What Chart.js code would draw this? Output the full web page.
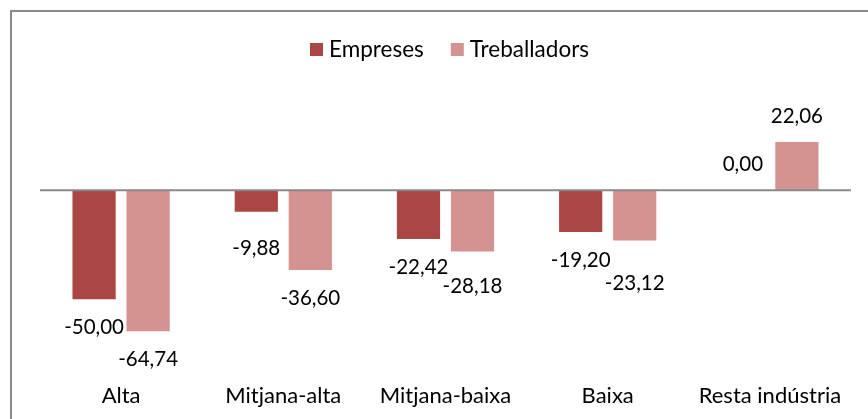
<!DOCTYPE html>
<html>
<head>
<meta charset="utf-8">
<script src="https://cdn.jsdelivr.net/npm/chart.js@4"></script>
<style>
  html, body { margin: 0; padding: 0; background: #fff; }
  #wrap { width: 868px; height: 419px; position: relative; }
</style>
</head>
<body>
<div id="wrap"><canvas id="c" width="868" height="419"></canvas></div>
<script>
// Variació (%) per nivell tecnològic
const categories = ['Alta', 'Mitjana-alta', 'Mitjana-baixa', 'Baixa', 'Resta indústria'];
const seriesNames = ['Empreses', 'Treballadors'];
const empreses = [-50.00, -9.88, -22.42, -19.20, 0.00];
const treballadors = [-64.74, -36.60, -28.18, -23.12, 22.06];

// Extra nudges [dx, dy] for individual value labels, so neighbours don't collide
const labelNudge = [
  [[0, 0], [0, 9], [0, 0], [0, 0], [0, 0]],
  [[0, 0], [0, 0], [0, 7], [0, 15], [0, 0]]
];

const VALUE_FONT = '20.5px Lato';
const LEGEND_FONT = '22.5px Lato';
const BORDER_GREY = '#898989';
const colours = ['#AA4643', '#D49291'];

const fmt = v => v.toFixed(2).replace('.', ',');

const frame = {
  id: 'frame',
  beforeDraw(chart) {
    const ctx = chart.ctx;
    ctx.save();
    ctx.fillStyle = '#fff';
    ctx.fillRect(0, 0, chart.width, chart.height);
    ctx.strokeStyle = BORDER_GREY;
    ctx.lineWidth = 2;
    ctx.strokeRect(11, 11, 1000, 600);
    ctx.restore();
  }
};

const zeroLine = {
  id: 'zeroLine',
  afterDatasetsDraw(chart) {
    const { ctx, chartArea, scales } = chart;
    const y = scales.y.getPixelForValue(0);
    ctx.save();
    ctx.strokeStyle = BORDER_GREY;
    ctx.lineWidth = 2;
    ctx.beginPath();
    ctx.moveTo(chartArea.left, y);
    ctx.lineTo(chartArea.right, y);
    ctx.stroke();
    ctx.restore();
  }
};

const valueLabels = {
  id: 'valueLabels',
  afterDraw(chart) {
    const ctx = chart.ctx;
    ctx.save();
    ctx.font = VALUE_FONT;
    ctx.fillStyle = '#000';
    ctx.textAlign = 'center';
    ctx.textBaseline = 'middle';
    chart.data.datasets.forEach((ds, di) => {
      chart.getDatasetMeta(di).data.forEach((bar, i) => {
        const v = ds.data[i];
        const [dx, dy] = labelNudge[di][i];
        const off = v < 0 ? 28 : -26;
        ctx.fillText(fmt(v), bar.x + dx, bar.y + off + dy);
      });
    });
    ctx.restore();
  }
};

const topLegend = {
  id: 'topLegend',
  afterDraw(chart) {
    const ctx = chart.ctx;
    const box = 13, gap = 6, itemGap = 27, cx = 449.5, cy = 49.5;
    ctx.save();
    ctx.font = LEGEND_FONT;
    ctx.textBaseline = 'middle';
    ctx.textAlign = 'left';
    const widths = seriesNames.map(n => ctx.measureText(n).width);
    const total = widths.reduce((a, w) => a + box + gap + w, 0) + itemGap * (seriesNames.length - 1);
    let x = cx - total / 2;
    seriesNames.forEach((n, i) => {
      ctx.fillStyle = colours[i];
      ctx.fillRect(x, cy - box / 2, box, box);
      ctx.fillStyle = '#000';
      ctx.fillText(n, x + box + gap, cy);
      x += box + gap + widths[i] + itemGap;
    });
    ctx.restore();
  }
};

new Chart(document.getElementById('c'), {
  type: 'bar',
  data: {
    labels: categories,
    datasets: [
      { label: seriesNames[0], data: empreses, backgroundColor: colours[0] },
      { label: seriesNames[1], data: treballadors, backgroundColor: colours[1] }
    ]
  },
  options: {
    responsive: false,
    animation: false,
    devicePixelRatio: 1,
    categoryPercentage: 0.666,
    barPercentage: 0.8,
    layout: { padding: { left: 40, right: 17, top: 103, bottom: 3.2 } },
    plugins: { legend: { display: false }, tooltip: { enabled: false } },
    scales: {
      x: {
        grid: { display: false, drawTicks: false, tickLength: 0 },
        border: { display: false },
        ticks: { color: '#000', font: { family: 'Lato', size: 22 }, padding: 7, maxRotation: 0, autoSkip: false }
      },
      y: {
        display: false,
        min: -85,
        max: 40
      }
    }
  },
  plugins: [frame, zeroLine, valueLabels, topLegend]
});
</script>
</body>
</html>
